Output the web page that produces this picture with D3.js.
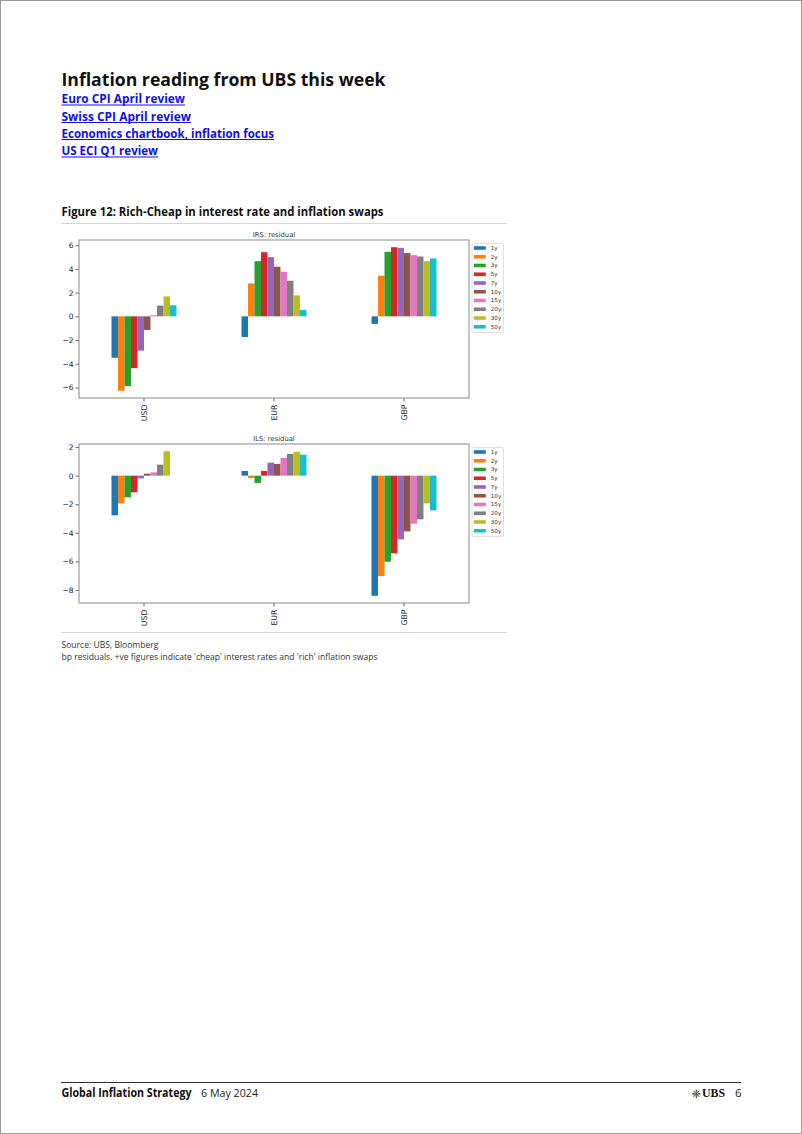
<!DOCTYPE html>
<html><head><meta charset="utf-8">
<script src="https://cdn.jsdelivr.net/npm/d3@7"></script>
<style>body{margin:0;background:#fff} svg{display:block}</style>
</head><body><svg id="c" width="802" height="1134"></svg>
<script>
// ---------- data ----------
const categories = ["USD", "EUR", "GBP"];
const tenors = ["1y", "2y", "3y", "5y", "7y", "10y", "15y", "20y", "30y", "50y"];
const irsUSD = [-3.50, -6.28, -5.89, -4.37, -2.89, -1.15, 0.10, 0.90, 1.68, 0.93];
const irsEUR = [-1.74, 2.78, 4.65, 5.41, 4.99, 4.18, 3.76, 3.00, 1.77, 0.53];
const irsGBP = [-0.64, 3.42, 5.44, 5.83, 5.77, 5.33, 5.16, 5.05, 4.65, 4.88];
const ilsUSD = [-2.78, -1.94, -1.52, -1.17, -0.19, 0.14, 0.23, 0.77, 1.71, 0];
const ilsEUR = [0.33, -0.16, -0.51, 0.33, 0.91, 0.82, 1.24, 1.52, 1.66, 1.47];
const ilsGBP = [-8.41, -7.03, -6.03, -5.44, -4.46, -3.90, -3.36, -3.06, -1.94, -2.43];
const irsTicks = [-6, -4, -2, 0, 2, 4, 6];
const ilsTicks = [-8, -6, -4, -2, 0, 2];
const palette = ["#1f77b4", "#ff7f0e", "#2ca02c", "#d62728", "#9467bd",
                 "#8c564b", "#e377c2", "#7f7f7f", "#bcbd22", "#17becf"];

const svg = d3.select("#c");
const SANS = "'Open Sans', 'Noto Sans', sans-serif";
const MPL = "'DejaVu Sans', sans-serif";

// page border
svg.append("rect").attr("x", 0.5).attr("y", 0.5).attr("width", 801).attr("height", 1133)
  .attr("fill", "none").attr("stroke", "#9a9a9a").attr("stroke-width", 1);

function txt(x, y, s, size, weight, color, width, family) {
  const t = svg.append("text").attr("x", x).attr("y", y).text(s)
    .attr("font-family", family || SANS).attr("font-size", size)
    .attr("font-weight", weight).attr("fill", color);
  if (width) t.attr("textLength", width).attr("lengthAdjust", "spacingAndGlyphs");
  return t;
}

// ---------- header ----------
txt(61.5, 85.5, "Inflation reading from UBS this week", 18, 700, "#111", 324);
const links = [
  ["Euro CPI April review", 103, 123.5],
  ["Swiss CPI April review", 120.5, 129.5],
  ["Economics chartbook, inflation focus", 137.5, 212.5],
  ["US ECI Q1 review", 155, 96.5]
];
links.forEach(([s, y, w]) => {
  txt(61.5, y, s, 12, 700, "#1010e6", w);
  svg.append("line").attr("x1", 61.5).attr("x2", 61.5 + w).attr("y1", y + 2).attr("y2", y + 2)
    .attr("stroke", "#1010e6").attr("stroke-width", 1);
});
txt(61.5, 216, "Figure 12: Rich-Cheap in interest rate and inflation swaps", 11.5, 700, "#111", 322);
svg.append("line").attr("x1", 61).attr("x2", 507).attr("y1", 223.5).attr("y2", 223.5)
  .attr("stroke", "#d6d6d6").attr("stroke-width", 1);

// ---------- panels ----------
function panel(title, series, ticks, top, bottom) {
  const left = 79, right = 469;
  const g = svg.append("g");
  const all = series.flat();
  const lo = d3.min(all), hi = d3.max(all), r = hi - lo;
  const y = d3.scaleLinear().domain([lo - 0.05 * r, hi + 0.05 * r]).range([bottom, top]);
  const x = d3.scaleBand().domain(categories).range([left, right]).paddingInner(0.5).paddingOuter(0.25);
  const xi = d3.scaleBand().domain(tenors).range([0, x.bandwidth()]);

  categories.forEach((c, ci) => {
    g.append("g").selectAll("rect").data(series[ci]).join("rect")
      .attr("x", (d, j) => x(c) + xi(tenors[j]))
      .attr("width", xi.bandwidth())
      .attr("y", d => Math.min(y(d), y(0)))
      .attr("height", d => Math.abs(y(d) - y(0)))
      .attr("fill", (d, j) => palette[j]);
  });

  const ya = g.append("g").attr("transform", `translate(${left},0)`)
    .call(d3.axisLeft(y).tickValues(ticks).tickSize(3.5).tickPadding(2)
      .tickFormat(d => d < 0 ? "\u2212" + Math.abs(d) : String(d)));
  ya.select(".domain").remove();
  ya.selectAll("line").attr("stroke", "#444").attr("stroke-width", 0.8);
  ya.selectAll("text").attr("font-family", MPL).attr("font-size", 7.5).attr("fill", "#222");

  const xa = g.append("g").attr("transform", `translate(0,${bottom})`)
    .call(d3.axisBottom(x).tickSize(3.5).tickPadding(0));
  xa.select(".domain").remove();
  xa.selectAll("line").attr("stroke", "#444").attr("stroke-width", 0.8);
  xa.selectAll("text").attr("font-family", MPL).attr("font-size", 7.8).attr("fill", "#222")
    .attr("text-anchor", "end").attr("dy", "0.35em")
    .attr("transform", "translate(0,6.5) rotate(-90)").attr("y", 0).attr("x", 0);

  g.append("rect").attr("x", left).attr("y", top).attr("width", right - left).attr("height", bottom - top)
    .attr("fill", "none").attr("stroke", "#8a8a8a").attr("stroke-width", 1);

  g.append("text").attr("x", (left + right) / 2).attr("y", top - 3).attr("text-anchor", "middle")
    .attr("font-family", MPL).attr("font-size", 6.8).attr("fill", "#333").text(title);

  // legend
  const lx = 472, ly = top + 3.5, step = 8.75;
  g.append("rect").attr("x", lx).attr("y", ly).attr("width", 31.5).attr("height", 89)
    .attr("rx", 1.5).attr("fill", "#fff").attr("stroke", "#d8d8d8").attr("stroke-width", 0.8);
  const li = g.append("g").selectAll("g").data(tenors).join("g")
    .attr("transform", (d, i) => `translate(${lx + 1.8},${ly + 4.5 + i * step})`);
  li.append("rect").attr("x", 0).attr("y", -1.8).attr("width", 12).attr("height", 3.6)
    .attr("fill", (d, i) => palette[i]);
  li.append("text").attr("x", 17).attr("y", 0).attr("dy", "0.35em")
    .attr("font-family", MPL).attr("font-size", 5.6).attr("fill", "#333").text(d => d);
}

panel("IRS: residual", [irsUSD, irsEUR, irsGBP], irsTicks, 240, 398);
panel("ILS: residual", [ilsUSD, ilsEUR, ilsGBP], ilsTicks, 444, 603);

// ---------- source ----------
svg.append("line").attr("x1", 61).attr("x2", 507).attr("y1", 632.5).attr("y2", 632.5)
  .attr("stroke", "#d6d6d6").attr("stroke-width", 1);
txt(61.5, 647.5, "Source: UBS, Bloomberg", 8.5, 400, "#333", 97);
txt(61.5, 660, "bp residuals. +ve figures indicate 'cheap' interest rates and 'rich' inflation swaps", 8.5, 400, "#333", 316);

// ---------- footer ----------
svg.append("line").attr("x1", 61).attr("x2", 741).attr("y1", 1082.5).attr("y2", 1082.5)
  .attr("stroke", "#333").attr("stroke-width", 1);
txt(61.5, 1096.5, "Global Inflation Strategy", 11.5, 700, "#111", 130);
txt(201, 1096.5, "6 May 2024", 11.5, 400, "#222", 57);
txt(691.5, 1097.5, "\u2748", 11.5, 700, "#222", null, "'DejaVu Sans'");
txt(702, 1097, "UBS", 11.5, 700, "#111", 23, "'Liberation Serif', serif");
txt(735, 1097, "6", 11.5, 400, "#222");
</script></body></html>
